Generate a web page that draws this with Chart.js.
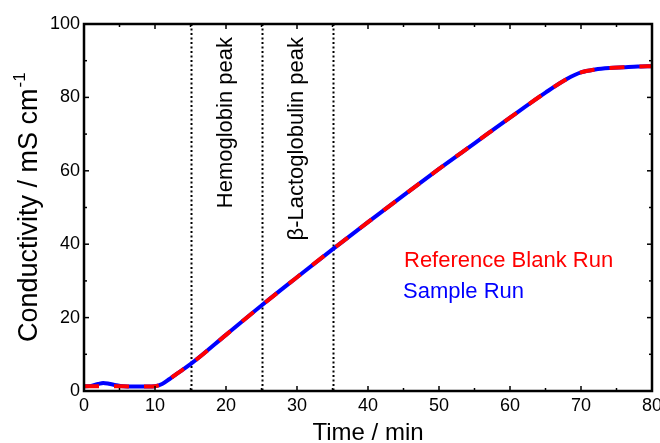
<!DOCTYPE html>
<html>
<head>
<meta charset="utf-8">
<script src="https://cdn.jsdelivr.net/npm/chart.js@4.4.0/dist/chart.umd.min.js"></script>
<style>
  html, body { margin: 0; padding: 0; background: #fff; }
  canvas { display: block; }
</style>
</head>
<body>
<canvas id="chart" width="660" height="443"></canvas>
<script>
// === DATA ===
const timeMin   = [0, 1, 2, 2.7, 3.5, 4.5, 5.5, 7, 9, 10, 11, 12, 13, 15, 20, 25, 30, 35, 40, 45, 50, 55, 60, 65, 68, 70, 72, 74, 76, 78, 80];
const blankRun  = [1.3, 1.3, 1.3, 1.3, 1.3, 1.3, 1.3, 1.2, 1.2, 1.3, 1.9, 3.2, 4.6, 7.3, 15.3, 23.3, 31.0, 38.6, 46.0, 53.3, 60.5, 67.5, 74.5, 81.3, 85.0, 86.8, 87.6, 88.0, 88.2, 88.4, 88.5];
const sampleRun = [1.3, 1.4, 1.9, 2.2, 2.0, 1.6, 1.3, 1.2, 1.2, 1.3, 1.9, 3.2, 4.6, 7.3, 15.3, 23.3, 31.0, 38.6, 46.0, 53.3, 60.5, 67.5, 74.5, 81.3, 85.0, 86.8, 87.6, 88.0, 88.2, 88.4, 88.5];
const seriesNames = ["Reference Blank Run", "Sample Run"];
const peakLines = [15, 25, 35];
const peakLabels = ["Hemoglobin peak", "\u03B2-Lactoglobulin peak"];
const peakLabelAt = [20, 30];
const xRange = [0, 80], xStep = 10;
const yRange = [0, 100], yStep = 20;
// =================

const FONT = "'Liberation Sans', Arial, sans-serif";

function pts(ys) { return timeMin.map((t, i) => ({ x: t, y: ys[i] })); }

// frame, inward ticks, peak markers, titles, text legend
const decor = {
  id: "decor",
  beforeDatasetsDraw(chart) {
    const { ctx, chartArea: a, scales: { x } } = chart;
    ctx.save();
    ctx.strokeStyle = "#000";
    ctx.lineWidth = 2;
    ctx.setLineDash([2, 2.5]);
    peakLines.forEach(v => {
      const px = Math.round(x.getPixelForValue(v)) + 0.5;
      ctx.beginPath(); ctx.moveTo(px, a.top); ctx.lineTo(px, a.bottom); ctx.stroke();
    });
    ctx.restore();
  },
  afterDatasetsDraw(chart) {
    const { ctx, chartArea: a, scales: { x, y } } = chart;
    ctx.save();
    // frame
    ctx.strokeStyle = "#000";
    ctx.lineWidth = 2.5;
    ctx.strokeRect(a.left, a.top, a.right - a.left, a.bottom - a.top);

    // ticks on all four sides
    ctx.lineWidth = 1.5;
    function ticksFor(scale) {
      const vals = scale.ticks.map(t => t.value);
      const minors = [];
      for (let i = 0; i < vals.length - 1; i++) minors.push((vals[i] + vals[i + 1]) / 2);
      return { vals, minors };
    }
    const xt = ticksFor(x), yt = ticksFor(y);
    const tick = (x1, y1, x2, y2) => { ctx.beginPath(); ctx.moveTo(x1, y1); ctx.lineTo(x2, y2); ctx.stroke(); };
    xt.vals.forEach(v => { const p = x.getPixelForValue(v); tick(p, a.bottom, p, a.bottom - 5); tick(p, a.top, p, a.top + 5); });
    xt.minors.forEach(v => { const p = x.getPixelForValue(v); tick(p, a.bottom, p, a.bottom - 3); tick(p, a.top, p, a.top + 3); });
    yt.vals.forEach(v => { const p = y.getPixelForValue(v); tick(a.left, p, a.left + 5, p); tick(a.right, p, a.right - 5, p); });
    yt.minors.forEach(v => { const p = y.getPixelForValue(v); tick(a.left, p, a.left + 3, p); tick(a.right, p, a.right - 3, p); });

    // peak labels (rotated)
    ctx.fillStyle = "#000";
    ctx.font = "22px " + FONT;
    ctx.textAlign = "right";
    ctx.textBaseline = "middle";
    peakLabels.forEach((txt, i) => {
      ctx.save();
      ctx.translate(x.getPixelForValue(peakLabelAt[i]), 37);
      ctx.rotate(-Math.PI / 2);
      ctx.fillText(txt, 0, 0);
      ctx.restore();
    });

    // text legend
    ctx.textAlign = "left";
    ctx.textBaseline = "alphabetic";
    ctx.font = "22px " + FONT;
    const ds = chart.data.datasets;
    ctx.fillStyle = ds[0].borderColor; ctx.fillText(ds[0].label, 404, 267);
    ctx.fillStyle = ds[1].borderColor; ctx.fillText(ds[1].label, 403, 298);

    // x axis title
    ctx.fillStyle = "#000";
    ctx.font = "24px " + FONT;
    ctx.textAlign = "center";
    ctx.fillText("Time / min", (a.left + a.right) / 2, 440);

    // y axis title with superscript
    ctx.save();
    ctx.translate(37, 342);
    ctx.rotate(-Math.PI / 2);
    ctx.textAlign = "left";
    ctx.font = "27px " + FONT;
    const main = "Conductivity / mS cm";
    ctx.fillText(main, 0, 0);
    const w = ctx.measureText(main).width;
    ctx.font = "17px " + FONT;
    ctx.fillText("-1", w + 1, -12);
    ctx.restore();
    ctx.restore();
  }
};

new Chart(document.getElementById("chart"), {
  type: "line",
  data: {
    datasets: [
      {
        label: seriesNames[0],
        data: pts(blankRun),
        borderColor: "#ff0000",
        borderWidth: 4,
        borderDash: [15, 15],
        pointRadius: 0,
        cubicInterpolationMode: "monotone",
        fill: false
      },
      {
        label: seriesNames[1],
        data: pts(sampleRun),
        borderColor: "#0000ff",
        borderWidth: 4,
        pointRadius: 0,
        cubicInterpolationMode: "monotone",
        fill: false
      }
    ]
  },
  options: {
    responsive: false,
    animation: false,
    devicePixelRatio: 1,
    layout: { padding: { top: 24, right: 8, left: 0, bottom: 0 } },
    plugins: { legend: { display: false }, tooltip: { enabled: false } },
    scales: {
      x: {
        type: "linear",
        min: xRange[0], max: xRange[1],
        ticks: { stepSize: xStep, color: "#000", font: { family: FONT, size: 18 }, padding: 4, maxRotation: 0, autoSkip: false },
        grid: { display: false, drawTicks: false },
        border: { display: false },
        afterFit(s) { s.height = 52; s.paddingRight = 0; }
      },
      y: {
        min: yRange[0], max: yRange[1],
        ticks: { stepSize: yStep, color: "#000", font: { family: FONT, size: 18 }, padding: 4 },
        grid: { display: false, drawTicks: false },
        border: { display: false },
        afterFit(s) { s.width = 84; }
      }
    }
  },
  plugins: [decor]
});
</script>
</body>
</html>
